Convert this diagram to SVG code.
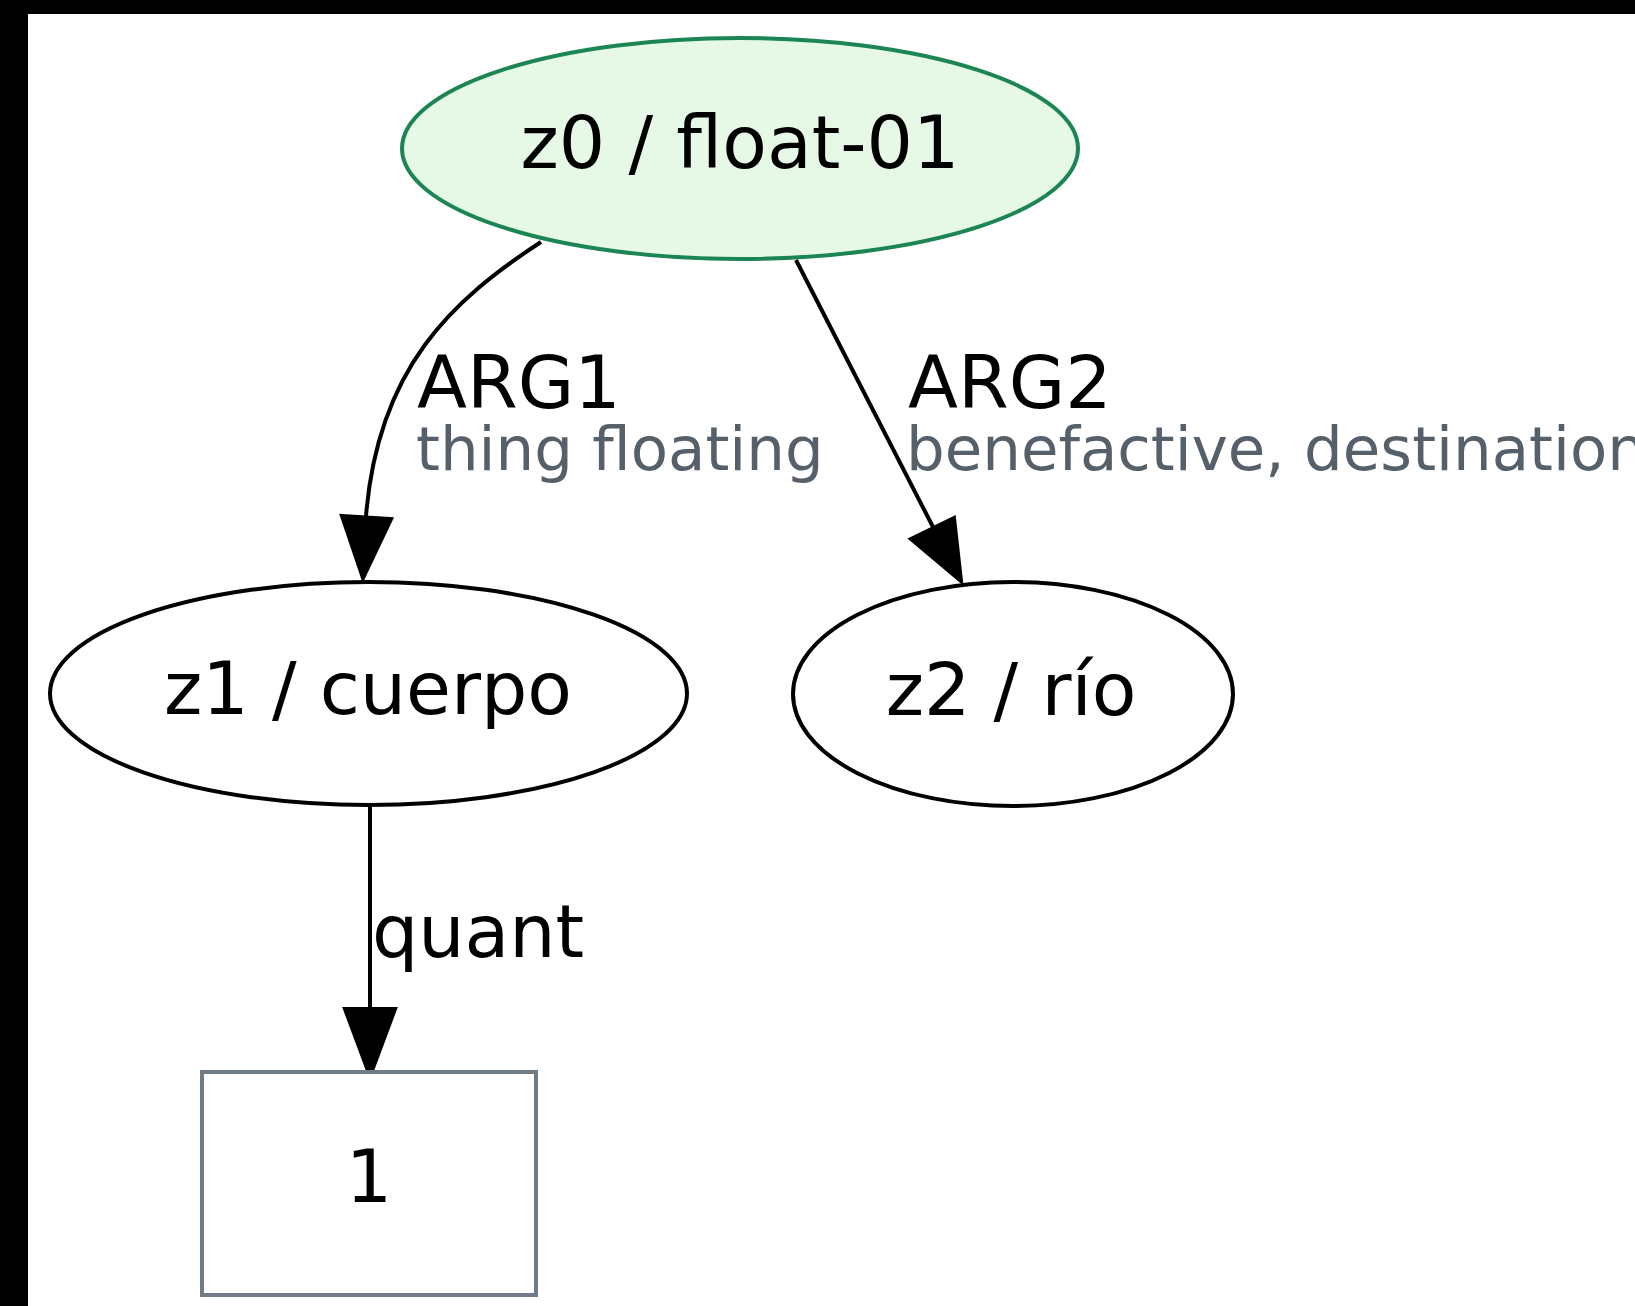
<svg xmlns="http://www.w3.org/2000/svg" width="1635" height="1306" viewBox="0 0 1635 1306">
<style>
  text { font-family: "DejaVu Sans", "Liberation Sans", sans-serif; }
  .main { font-size: 73px; fill: #000000; }
  .sub { font-size: 61px; fill: #55606b; }
  .node { fill: #ffffff; stroke: #000000; stroke-width: 4; }
  .edge { fill: none; stroke: #000000; stroke-width: 4; }
  .head { fill: #000000; stroke: #000000; stroke-width: 4; stroke-linejoin: miter; }
</style>
<rect x="0" y="0" width="1635" height="1306" fill="#000000"/>
<rect x="28" y="14" width="1607" height="1292" fill="#ffffff"/>

<g id="connectors">
  <g id="edge-z0-z1">
    <path class="edge" d="M541,242 C452,300 378,368 366,516"/>
    <polygon class="head" points="342,516 391,519 363,578"/>
    <text class="main" x="417" y="408">ARG1</text>
    <text class="sub" x="416" y="470">thing floating</text>
  </g>
  <g id="edge-z0-z2">
    <path class="edge" d="M796,260 L933,527"/>
    <polygon class="head" points="911,539 954,518 961,581"/>
    <text class="main" x="908" y="408">ARG2</text>
    <text class="sub" x="906" y="470">benefactive, destination</text>
  </g>
  <g id="edge-z1-1">
    <path class="edge" d="M370,805 L370,1008"/>
    <polygon class="head" points="345,1009 395,1009 370,1076"/>
    <text class="main" x="372" y="957">quant</text>
  </g>
</g>

<g id="node-z0">
  <ellipse cx="740" cy="148.5" rx="338" ry="110.5" fill="#e6f9e6" stroke="#1b8553" stroke-width="4"/>
  <text class="main" x="740" y="168" text-anchor="middle">z0 / float-01</text>
</g>
<g id="node-z1">
  <ellipse class="node" cx="368.5" cy="693.5" rx="318.5" ry="111.5"/>
  <text class="main" x="368" y="714" text-anchor="middle">z1 / cuerpo</text>
</g>
<g id="node-z2">
  <ellipse class="node" cx="1013" cy="694" rx="220" ry="112"/>
  <text class="main" x="1011" y="715" text-anchor="middle">z2 / río</text>
</g>
<g id="node-1">
  <rect x="202" y="1072" width="334" height="223" fill="#ffffff" stroke="#6f7b87" stroke-width="4"/>
  <text class="main" x="369" y="1202" text-anchor="middle">1</text>
</g>
</svg>
